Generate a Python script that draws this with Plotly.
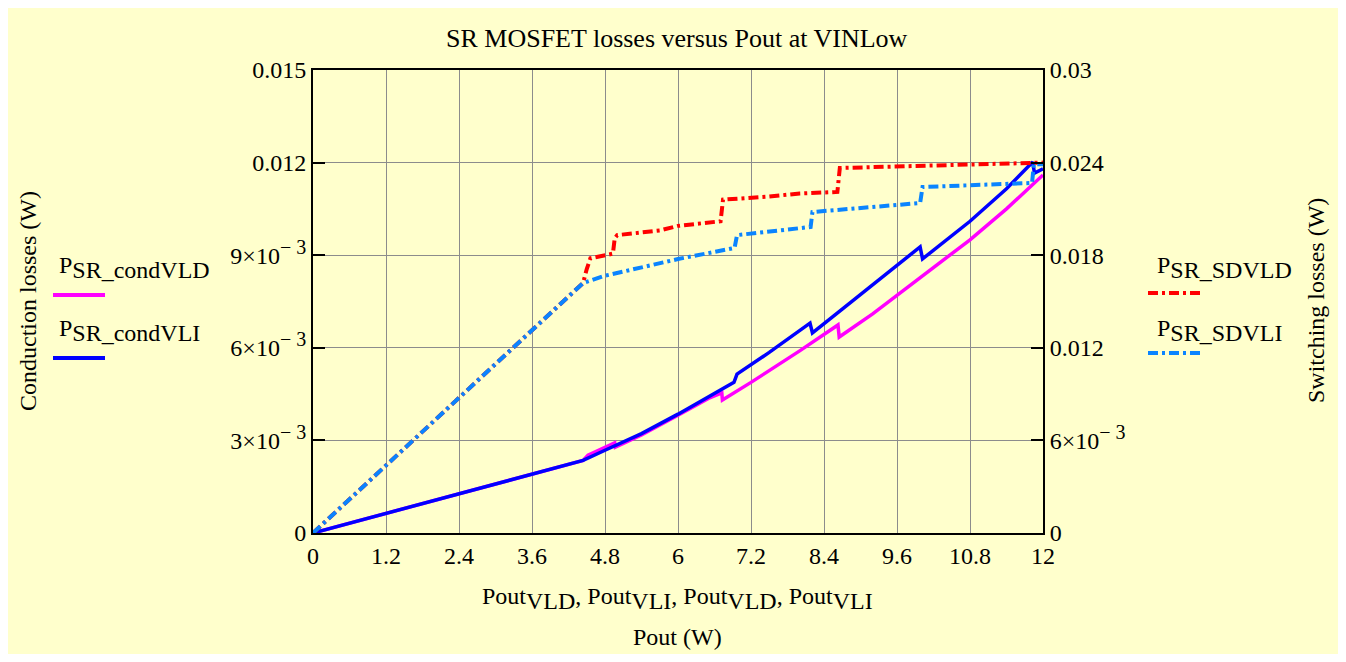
import plotly.graph_objects as go

# ---------------- data ----------------
x_ticks = [0, 1.2, 2.4, 3.6, 4.8, 6, 7.2, 8.4, 9.6, 10.8, 12]
x_ticktext = ["0", "1.2", "2.4", "3.6", "4.8", "6", "7.2", "8.4", "9.6", "10.8", "12"]

yl_ticks = [0, 0.003, 0.006, 0.009, 0.012, 0.015]
yr_ticks = [0, 0.006, 0.012, 0.018, 0.024, 0.03]

# conduction losses, VLD (magenta)
pout_cond_vld = [0, 4.44, 4.52, 4.96, 4.97, 5.4, 6.0, 6.5, 6.72, 6.73, 7.2, 8.0, 8.63, 8.65,
                 9.2, 9.6, 10.2, 10.8, 11.4, 12]
p_cond_vld = [0, 0.00235, 0.00252, 0.00292, 0.00278, 0.00318, 0.00382, 0.00436, 0.00454, 0.00431,
              0.00488, 0.0059, 0.00674, 0.00635, 0.0071, 0.0077, 0.0086, 0.0095, 0.0105, 0.0116]

# conduction losses, VLI (blue)
pout_cond_vli = [0, 4.44, 4.8, 5.4, 6.0, 6.5, 6.92, 6.97, 7.5, 8.17, 8.21, 8.7, 9.3, 9.98, 10.02,
                 10.8, 11.4, 11.83, 11.86, 12]
p_cond_vli = [0, 0.00235, 0.00268, 0.00322, 0.00385, 0.0044, 0.00488, 0.00515, 0.00585, 0.0068,
              0.00648, 0.00725, 0.0082, 0.00927, 0.00888, 0.0101, 0.01115, 0.01202, 0.01166, 0.0118]

# switching losses, VLD (red)
pout_sd_vld = [0, 4.44, 4.5, 4.56, 4.93, 4.96, 5.0, 5.7, 6.0, 6.7, 6.74, 7.5, 8.0, 8.62, 8.66,
               10.0, 12]
p_sd_vld = [0, 0.0162, 0.0171, 0.0178, 0.0181, 0.0191, 0.0193, 0.0196, 0.0199, 0.0202, 0.0216,
            0.0218, 0.0220, 0.0221, 0.02365, 0.0238, 0.0240]

# switching losses, VLI (light blue)
pout_sd_vli = [0, 4.44, 4.78, 5.7, 6.0, 6.93, 6.97, 8.18, 8.21, 9.98, 10.02, 11.82, 11.85, 12]
p_sd_vli = [0, 0.0162, 0.01665, 0.0175, 0.01775, 0.01847, 0.0193, 0.01983, 0.0208, 0.02138,
            0.02242, 0.02268, 0.0239, 0.0239]

# ---------------- layout helpers ----------------
OFF = 8                      # page body margin
W, H = 1330, 646
L, R, T, B = 313, 1043, 70, 533   # plot area in screenshot pixels
FONT = "Liberation Serif, Times New Roman, serif"
FS = 24
BG = "#FFFFCC"


def px2x(px):
    return (px - L) / (R - L)


def py2y(py):
    return (B - py) / (B - T)


def big(s, size=FS):
    return '<span style="font-size:%dpx">%s</span>' % (size, s)


def sci(m):
    return "%s×10<sup>%s</sup>" % (m, big("− 3", 20))


yl_ticktext = ["0", sci(3), sci(6), sci(9), "0.012", "0.015"]
yr_ticktext = ["0", sci(6), "0.012", "0.018", "0.024", "0.03"]

fig = go.Figure()

fig.add_trace(go.Scatter(x=pout_cond_vld, y=p_cond_vld, mode="lines", yaxis="y",
                         line=dict(color="#FF00FF", width=3.5), showlegend=False))
fig.add_trace(go.Scatter(x=pout_cond_vli, y=p_cond_vli, mode="lines", yaxis="y",
                         line=dict(color="#0000FF", width=3.5), showlegend=False))
fig.add_trace(go.Scatter(x=pout_sd_vld, y=p_sd_vld, mode="lines", yaxis="y2",
                         line=dict(color="#FF0000", width=4, dash="10px,4px,3px,4px"),
                         showlegend=False))
fig.add_trace(go.Scatter(x=pout_sd_vli, y=p_sd_vli, mode="lines", yaxis="y2",
                         line=dict(color="#0A84FF", width=4, dash="10px,4px,3px,4px"),
                         showlegend=False))

shapes = []

legend_items = [
    ("SR_condVLD", 57, 267, 53, 105, 295, "#FF00FF", "solid"),
    ("SR_condVLI", 57, 330, 53, 105, 358, "#0000FF", "solid"),
    ("SR_SDVLD", 1155, 267, 1148, 1202, 293, "#FF0000", "10px,4px,3px,4px"),
    ("SR_SDVLI", 1155, 330, 1148, 1202, 353, "#0A84FF", "10px,4px,3px,4px"),
]

annotations = [
    dict(text="SR MOSFET losses versus Pout at VINLow", x=px2x(677), y=py2y(39),
         xref="paper", yref="paper", showarrow=False, font=dict(size=26),
         xanchor="center", yanchor="middle"),
    dict(text="Conduction losses (W)", x=px2x(28), y=py2y(301), xref="paper", yref="paper",
         showarrow=False, textangle=-90, xanchor="center", yanchor="middle"),
    dict(text="Switching losses (W)", x=px2x(1316), y=py2y(301), xref="paper", yref="paper",
         showarrow=False, textangle=-90, xanchor="center", yanchor="middle"),
    dict(text="Pout<sub>" + big("VLD") + "</sub>, Pout<sub>" + big("VLI") + "</sub>, Pout<sub>"
         + big("VLD") + "</sub>, Pout<sub>" + big("VLI") + "</sub>",
         x=px2x(677), y=py2y(598), xref="paper", yref="paper", showarrow=False,
         xanchor="center", yanchor="middle"),
    dict(text="Pout (W)", x=px2x(677), y=py2y(637), xref="paper", yref="paper",
         showarrow=False, xanchor="center", yanchor="middle"),
]

for name, tx, ty, lx0, lx1, ly, col, dash in legend_items:
    annotations.append(dict(text="P<sub>" + big(name) + "</sub>", x=px2x(tx), y=py2y(ty),
                            xref="paper", yref="paper", showarrow=False,
                            xanchor="left", yanchor="middle"))
    shapes.append(dict(type="line", xref="paper", yref="paper", x0=px2x(lx0), x1=px2x(lx1),
                       y0=py2y(ly), y1=py2y(ly), line=dict(color=col, width=4, dash=dash)))

fig.update_layout(
    width=W, height=H,
    margin=dict(l=L - OFF, r=W + OFF - R, t=T - OFF, b=H + OFF - B, pad=0),
    paper_bgcolor=BG,
    plot_bgcolor=BG,
    font=dict(family=FONT, size=FS, color="black"),
    showlegend=False,
    shapes=shapes,
    annotations=annotations,
    xaxis=dict(range=[0, 12], tickmode="array", tickvals=x_ticks, ticktext=x_ticktext,
               showgrid=True, gridcolor="#8C8C8C", gridwidth=1, zeroline=False,
               showline=True, linecolor="black", linewidth=2, mirror=True, ticks=""),
    yaxis=dict(range=[0, 0.015], tickmode="array", tickvals=yl_ticks, ticktext=yl_ticktext,
               showgrid=True, gridcolor="#8C8C8C", gridwidth=1, zeroline=False,
               showline=True, linecolor="black", linewidth=2, mirror=False,
               ticks="inside", ticklen=12, tickwidth=2, tickcolor="black"),
    yaxis2=dict(range=[0, 0.03], tickmode="array", tickvals=yr_ticks, ticktext=yr_ticktext,
                overlaying="y", side="right", showgrid=False, zeroline=False,
                showline=True, linecolor="black", linewidth=2,
                ticks="inside", ticklen=12, tickwidth=2, tickcolor="black"),
)

fig.write_html("out.html")
